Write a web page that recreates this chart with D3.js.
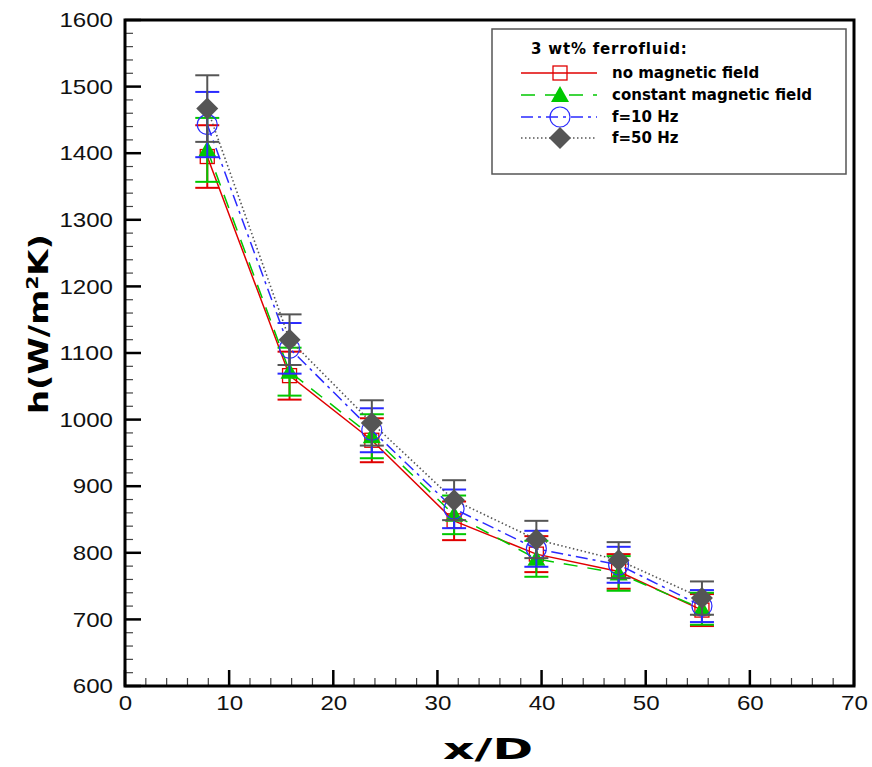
<!DOCTYPE html>
<html>
<head>
<meta charset="utf-8">
<script src="https://cdn.jsdelivr.net/npm/d3@7/dist/d3.min.js"></script>
<style>
  html, body { margin: 0; padding: 0; background: #fff; }
  svg { display: block; }
</style>
</head>
<body>
<svg id="chart" width="872" height="767"></svg>
<script>
// x/D stations along the surface
const xD = [7.9, 15.8, 23.7, 31.6, 39.5, 47.4, 55.4];

// heat transfer coefficient h (W/m²K) per case, with error half-widths
const noField      = [1395, 1066, 969, 848, 798, 772, 714];
const noFieldErr   = [47, 36, 33, 29, 27, 26, 24];
const constField   = [1405, 1072, 975, 857, 791, 769, 716];
const constFieldErr= [48, 36, 33, 29, 27, 26, 24];
const f10Hz        = [1443, 1107, 984, 866, 806, 782, 720];
const f10HzErr     = [49, 38, 33, 29, 27, 27, 24];
const f50Hz        = [1467, 1120, 995, 879, 820, 789, 732];
const f50HzErr     = [50, 38, 34, 30, 28, 27, 25];

const seriesNames = ["no magnetic field", "constant magnetic field", "f=10 Hz", "f=50 Hz"];
const legendTitle = "3 wt% ferrofluid:";

const xTicks = [0, 10, 20, 30, 40, 50, 60, 70];
const yTicks = [600, 700, 800, 900, 1000, 1100, 1200, 1300, 1400, 1500, 1600];

const series = [
  { name: seriesNames[0], values: noField,    err: noFieldErr,    color: "#e00000", dash: null,             marker: "square" },
  { name: seriesNames[1], values: constField, err: constFieldErr, color: "#00c800", dash: "14,10",          marker: "triangle" },
  { name: seriesNames[2], values: f10Hz,      err: f10HzErr,      color: "#2a2aff", dash: "12,5,3,5",       marker: "circle" },
  { name: seriesNames[3], values: f50Hz,      err: f50HzErr,      color: "#555555", dash: "1.5,2.5",        marker: "diamond" }
];

const svg = d3.select("#chart");
const L = 125, R = 854, T = 20, B = 686;

const x = d3.scaleLinear().domain([0, 70]).range([L, R]);
const y = d3.scaleLinear().domain([600, 1600]).range([B, T]);

// major and minor ticks, drawn inside the frame
const g = svg.append("g");
d3.range(0, 70.01, 2).forEach(v => {
  const major = v % 10 === 0;
  g.append("line").attr("x1", x(v)).attr("x2", x(v))
    .attr("y1", B).attr("y2", B - (major ? 16 : 8))
    .attr("stroke", major ? "#000" : "#444").attr("stroke-width", major ? 2.5 : 1.2);
});
d3.range(600, 1600.01, 20).forEach(v => {
  const major = v % 100 === 0;
  g.append("line").attr("x1", L).attr("x2", L + (major ? 16 : 8))
    .attr("y1", y(v)).attr("y2", y(v))
    .attr("stroke", major ? "#000" : "#444").attr("stroke-width", major ? 2.5 : 1.2);
});

// tick labels via axis generators
const xAxis = svg.append("g").attr("transform", `translate(0,${B})`)
  .call(d3.axisBottom(x).tickValues(xTicks).tickSize(0).tickPadding(9).tickFormat(d3.format("d")));
const yAxis = svg.append("g").attr("transform", `translate(${L},0)`)
  .call(d3.axisLeft(y).tickValues(yTicks).tickSize(0).tickPadding(12).tickFormat(d3.format("d")));
[xAxis, yAxis].forEach(a => {
  a.select(".domain").remove();
  a.selectAll("text").attr("font-family", "Liberation Sans, Arial, sans-serif")
    .attr("font-size", 21).attr("fill", "#111")
    .attr("lengthAdjust", "spacingAndGlyphs")
    .attr("textLength", function () { return this.textContent.length * 13.4; });
});

// frame
svg.append("rect").attr("x", L).attr("y", T).attr("width", R - L).attr("height", B - T)
  .attr("fill", "none").attr("stroke", "#000").attr("stroke-width", 3);

// axis titles
svg.append("text").attr("x", 488).attr("y", 759).attr("text-anchor", "middle")
  .attr("font-family", "DejaVu Sans, Verdana, sans-serif").attr("font-weight", "bold")
  .attr("font-size", 29).attr("textLength", 90).attr("lengthAdjust", "spacingAndGlyphs")
  .text("x/D");
const yl = svg.append("text").attr("transform", `translate(48,324) rotate(-90)`)
  .attr("text-anchor", "middle")
  .attr("font-family", "DejaVu Sans, Verdana, sans-serif").attr("font-weight", "bold")
  .attr("font-size", 27).attr("textLength", 180).attr("lengthAdjust", "spacingAndGlyphs");
yl.append("tspan").text("h(W/m");
yl.append("tspan").attr("font-size", 16).attr("dy", -10).text("2");
yl.append("tspan").attr("dy", 10).text("K)");

function drawMarker(sel, type, color, cx, cy) {
  if (type === "square") {
    sel.append("rect").attr("x", cx - 7).attr("y", cy - 7).attr("width", 14).attr("height", 14)
      .attr("fill", "none").attr("stroke", color).attr("stroke-width", 1.3);
  } else if (type === "triangle") {
    sel.append("path").attr("d", `M${cx},${cy - 9}L${cx + 9},${cy + 7}L${cx - 9},${cy + 7}Z`)
      .attr("fill", color);
  } else if (type === "circle") {
    sel.append("circle").attr("cx", cx).attr("cy", cy).attr("r", 10)
      .attr("fill", "none").attr("stroke", color).attr("stroke-width", 1.2);
  } else if (type === "diamond") {
    sel.append("path").attr("d", `M${cx},${cy - 11}L${cx + 11},${cy}L${cx},${cy + 11}L${cx - 11},${cy}Z`)
      .attr("fill", color);
  }
}

const line = d3.line().x(d => x(d[0])).y(d => y(d[1]));

series.forEach(s => {
  const pts = xD.map((v, i) => [v, s.values[i]]);
  const sg = svg.append("g");
  sg.append("path").attr("d", line(pts)).attr("fill", "none")
    .attr("stroke", s.color).attr("stroke-width", s.marker === "diamond" ? 1.6 : 1.5)
    .attr("stroke-dasharray", s.dash);
  // error bars
  xD.forEach((v, i) => {
    const cx = x(v), lo = y(s.values[i] - s.err[i]), hi = y(s.values[i] + s.err[i]);
    sg.append("line").attr("x1", cx).attr("x2", cx).attr("y1", lo).attr("y2", hi)
      .attr("stroke", s.color).attr("stroke-width", 2);
    [lo, hi].forEach(yy => sg.append("line").attr("x1", cx - 12).attr("x2", cx + 12)
      .attr("y1", yy).attr("y2", yy).attr("stroke", s.color).attr("stroke-width", 2));
  });
  xD.forEach((v, i) => drawMarker(sg, s.marker, s.color, x(v), y(s.values[i])));
});

// legend
const lg = svg.append("g");
lg.append("rect").attr("x", 492).attr("y", 29).attr("width", 354).attr("height", 145)
  .attr("fill", "#fff").attr("stroke", "#555").attr("stroke-width", 1.5);
lg.append("text").attr("x", 531).attr("y", 54)
  .attr("font-family", "DejaVu Sans, Verdana, sans-serif").attr("font-weight", "bold")
  .attr("font-size", 15).attr("letter-spacing", 0.8).text(legendTitle);
const rowY = [73, 95, 117, 138];
series.forEach((s, i) => {
  const yy = rowY[i];
  lg.append("line").attr("x1", 521).attr("x2", 597).attr("y1", yy).attr("y2", yy)
    .attr("stroke", s.color).attr("stroke-width", 1.5).attr("stroke-dasharray", s.dash);
  drawMarker(lg, s.marker, s.color, 560, yy);
  lg.append("text").attr("x", 612).attr("y", yy + 5)
    .attr("font-family", "DejaVu Sans, Verdana, sans-serif").attr("font-weight", "bold")
    .attr("font-size", 15).text(s.name);
});
</script>
</body>
</html>
